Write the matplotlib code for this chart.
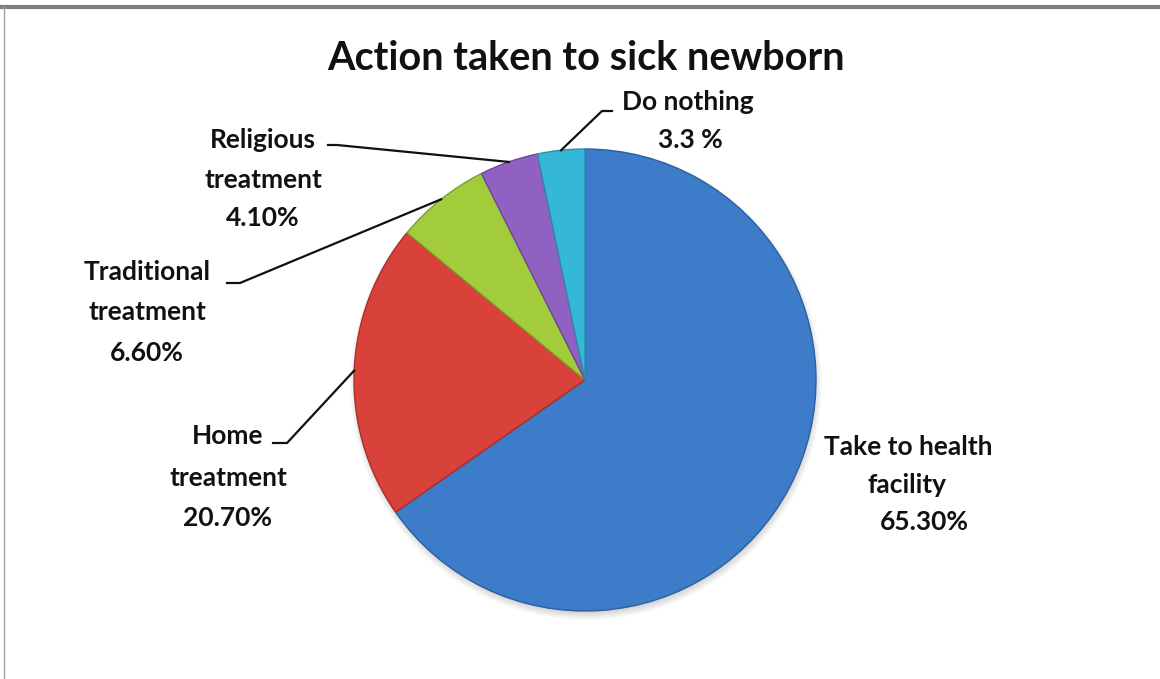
import numpy as np
import matplotlib
matplotlib.use("Agg")
import matplotlib.pyplot as plt
from matplotlib.lines import Line2D

# Survey responses: action taken when a newborn is sick
categories = ["Take to health facility", "Home treatment", "Traditional treatment",
              "Religious treatment", "Do nothing"]
shares = [65.3, 20.7, 6.6, 4.1, 3.3]
share_labels = ["65.30%", "20.70%", "6.60%", "4.10%", "3.3 %"]
colors = ["#3d7cc9", "#d8423b", "#a3cc3c", "#9061c2", "#35b8d8"]
edge_colors = ["#2d5f9e", "#a8302b", "#7f9f2c", "#6d4896", "#2790aa"]

W, H = 1160, 679
fig = plt.figure(figsize=(W / 100, H / 100), dpi=100)
ax = fig.add_axes([0, 0, 1, 1])
ax.set_xlim(0, W)
ax.set_ylim(0, H)
ax.set_aspect("equal")
ax.axis("off")

FONT = ["Lato", "DejaVu Sans"]

cx, cy, r = 585, H - 380, 231

# soft drop shadow under the pie
for k in range(8):
    ax.add_patch(plt.Circle((cx + 1, cy - 4), r + 5 - k, color="#000000",
                            alpha=0.018, lw=0, zorder=1))

wedges, _ = ax.pie(shares, colors=colors, startangle=90, counterclock=False,
                   center=(cx, cy), radius=r, frame=True,
                   wedgeprops=dict(linewidth=1.0, zorder=2))
for w, ec in zip(wedges, edge_colors):
    w.set_edgecolor(ec)
ax.set_xlim(0, W)
ax.set_ylim(0, H)
ax.axis("off")

# title
ax.text(586, H - 58, "Action taken to sick newborn", ha="center", va="center",
        fontsize=28.5, fontweight="bold", family=FONT, color="#111111")

# label lines: (text, x, y) in pixel coordinates from top-left
label_lines = {
    "Take to health facility": [("Take to health", 908, 447), ("facility", 907, 485),
                                (share_labels[0], 924, 522)],
    "Home treatment": [("Home", 228, 436), ("treatment", 228, 478), (share_labels[1], 228, 518)],
    "Traditional treatment": [("Traditional", 147, 272), ("treatment", 147, 312),
                              (share_labels[2], 147, 353)],
    "Religious treatment": [("Religious", 263, 140), ("treatment", 263, 180),
                            (share_labels[3], 263, 218)],
    "Do nothing": [("Do nothing", 688, 102), (share_labels[4], 690, 140)],
}
for cat in categories:
    for txt, x, y in label_lines[cat]:
        ax.text(x, H - y, txt, ha="center", va="center", fontsize=19,
                fontweight="bold", family=FONT, color="#111111")

# leader lines: from label elbow to the middle of each slice's rim
elbows = {
    "Home treatment": [(273, 443), (287, 443)],
    "Traditional treatment": [(227, 283), (240, 283)],
    "Religious treatment": [(328, 145), (337, 145)],
    "Do nothing": [(612, 111), (602, 111)],
}
for w, cat in zip(wedges, categories):
    if cat not in elbows:
        continue
    mid = np.deg2rad((w.theta1 + w.theta2) / 2)
    ex, ey = cx + r * np.cos(mid), cy + r * np.sin(mid)
    pts = elbows[cat]
    xs = [p[0] for p in pts] + [ex]
    ys = [H - p[1] for p in pts] + [ey]
    ax.add_line(Line2D(xs, ys, color="#111111", lw=1.6, zorder=3))

# frame edges
fig.add_artist(Line2D([0, 1], [1 - 7 / H, 1 - 7 / H], transform=fig.transFigure,
                      color="#808080", lw=3))
fig.add_artist(Line2D([4 / W, 4 / W], [0, 1 - 7 / H], transform=fig.transFigure,
                      color="#a0a0a0", lw=1))

fig.savefig("out.png", dpi=100, facecolor="white")
